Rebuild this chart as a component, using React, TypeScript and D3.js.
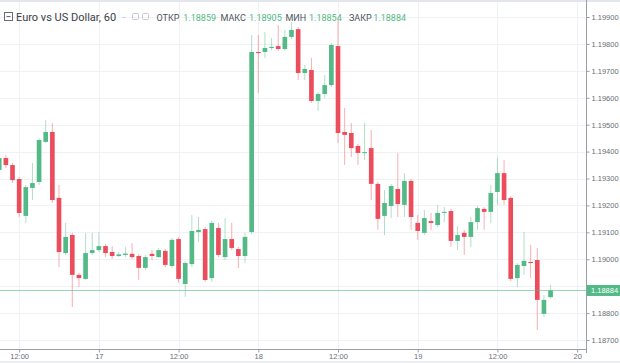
import { useEffect, useRef } from "react";
import * as d3 from "d3";

const WIDTH = 620;
const HEIGHT = 363;
const PLOT_RIGHT = 586;
const PLOT_BOTTOM = 349;

// EUR/USD hourly candles, first one at Oct 16 2017 09:00 UTC
const firstCandle = new Date(Date.UTC(2017, 9, 16, 9));

const opens = [
  1.19332, 1.19376, 1.1935, 1.19298, 1.19161, 1.19265, 1.19287, 1.19436, 1.19473, 1.19228,
  1.19023, 1.1909, 1.18942, 1.18927, 1.19023, 1.19034, 1.19049, 1.19027, 1.19012, 1.19016,
  1.1902, 1.19012, 1.18968, 1.1902, 1.19008, 1.19031, 1.18975, 1.19075, 1.18908, 1.18982,
  1.19101, 1.19112, 1.1893, 1.19116, 1.19008, 1.19075, 1.19038, 1.19012, 1.19101, 1.1977,
  1.1977, 1.19785, 1.19792, 1.19781, 1.19826, 1.19855, 1.19692, 1.19703, 1.19588, 1.19614,
  1.19647, 1.19792, 1.19473, 1.19469, 1.19421, 1.19395, 1.19413, 1.1928, 1.19161, 1.19198,
  1.19261, 1.19202, 1.19291, 1.19135, 1.19098, 1.19142, 1.19127, 1.19172, 1.19179, 1.19068,
  1.19098, 1.19083, 1.19138, 1.19187, 1.19176, 1.1925, 1.1932, 1.19228, 1.1893, 1.18975,
  1.1899, 1.18997, 1.18797, 1.18859,
];
const highs = [
  1.19387, 1.19387, 1.19358, 1.19306, 1.19276, 1.19358, 1.1945, 1.19517, 1.19506, 1.19276,
  1.19135, 1.19098, 1.18949, 1.19098, 1.19098, 1.19101, 1.19057, 1.19049, 1.19027, 1.19046,
  1.1906, 1.1902, 1.19016, 1.19034, 1.19042, 1.19038, 1.19079, 1.19083, 1.18994, 1.19164,
  1.19157, 1.1912, 1.19142, 1.19135, 1.19153, 1.19135, 1.19046, 1.19098, 1.19833, 1.19833,
  1.19844, 1.19822, 1.1987, 1.19852, 1.19881, 1.19863, 1.19722, 1.19748, 1.19621, 1.19685,
  1.19803, 1.19889, 1.19562, 1.19506, 1.19428, 1.19506, 1.1948, 1.19287, 1.19257, 1.1928,
  1.19395, 1.1932, 1.19298, 1.19164, 1.19183, 1.19172, 1.19202, 1.19194, 1.19187, 1.19124,
  1.19109, 1.19157, 1.19198, 1.19194, 1.19276, 1.19376, 1.19369, 1.19235, 1.18986, 1.19101,
  1.19053, 1.19042, 1.18867, 1.18905,
];
const lows = [
  1.19324, 1.19339, 1.19283, 1.19157, 1.19135, 1.1922, 1.19276, 1.19432, 1.19209, 1.18971,
  1.19016, 1.18823, 1.18897, 1.18923, 1.19016, 1.19027, 1.19008, 1.19001, 1.19008, 1.19008,
  1.19001, 1.18923, 1.1896, 1.18997, 1.19005, 1.18971, 1.18968, 1.18912, 1.1886, 1.18971,
  1.19064, 1.18916, 1.18916, 1.19008, 1.18997, 1.19034, 1.18968, 1.18986, 1.19094, 1.19618,
  1.19748, 1.19777, 1.19774, 1.19774, 1.19818, 1.19666, 1.19666, 1.19581, 1.19551, 1.19599,
  1.1964, 1.19432, 1.1935, 1.1938, 1.1935, 1.19369, 1.1922, 1.19109, 1.1909, 1.19153,
  1.19157, 1.19157, 1.19109, 1.19072, 1.1909, 1.19109, 1.1912, 1.19138, 1.19046, 1.19034,
  1.19016, 1.19046, 1.19109, 1.19109, 1.19135, 1.19202, 1.19202, 1.18919, 1.18897, 1.18942,
  1.1893, 1.18737, 1.18786, 1.18854,
];
const closes = [
  1.19376, 1.1935, 1.19294, 1.19172, 1.19268, 1.19283, 1.19443, 1.19473, 1.1922, 1.19027,
  1.19083, 1.18942, 1.1893, 1.19023, 1.19034, 1.19049, 1.19023, 1.19012, 1.19018, 1.19021,
  1.19008, 1.18968, 1.19008, 1.19012, 1.19034, 1.18979, 1.19072, 1.18927, 1.18986, 1.19105,
  1.19109, 1.18923, 1.19135, 1.19016, 1.19075, 1.19042, 1.19012, 1.19083, 1.1977, 1.19766,
  1.19785, 1.19789, 1.19781, 1.19826, 1.19852, 1.19692, 1.19707, 1.19588, 1.19614, 1.19647,
  1.19796, 1.19469, 1.19462, 1.19413, 1.19395, 1.19398, 1.1928, 1.1915, 1.19209, 1.19272,
  1.19205, 1.19291, 1.19157, 1.19105, 1.19153, 1.19135, 1.19172, 1.19176, 1.19068, 1.1909,
  1.19083, 1.19138, 1.1919, 1.19176, 1.19246, 1.1932, 1.1922, 1.18927, 1.18979, 1.18994,
  1.18986, 1.18849, 1.18849, 1.18884,
];

const priceTicks = [
  1.187, 1.188, 1.189, 1.19, 1.191, 1.192, 1.193, 1.194, 1.195, 1.196, 1.197, 1.198, 1.199,
];
const ohlcLabels = ["ОТКР", "МАКС", "МИН", "ЗАКР"];
const title = "Euro vs US Dollar, 60";

const UP = "#53b987";
const DOWN = "#eb4d5c";
const AXIS = "#9a9da5";
const AXIS_TEXT = "#6a6d75";

export default function App() {
  const ref = useRef<SVGSVGElement>(null);

  useEffect(() => {
    const svg = d3.select(ref.current);
    svg.selectAll("*").remove();

    const candles = opens.map((o, i) => ({
      t: d3.utcHour.offset(firstCandle, i),
      o,
      h: highs[i],
      l: lows[i],
      c: closes[i],
    }));
    const last = candles[candles.length - 1];

    const x = d3
      .scaleUtc()
      .domain([new Date(Date.UTC(2017, 9, 16, 9, 7)), new Date(Date.UTC(2017, 9, 20, 1, 20))])
      .range([0, PLOT_RIGHT]);
    const y = d3.scaleLinear().domain([1.187, 1.199]).range([340, 17]);
    const step = x(d3.utcHour.offset(firstCandle, 1)) - x(firstCandle);
    const bodyW = step * 0.7;
    const fmt = d3.format(".5f");

    svg.append("rect").attr("width", WIDTH).attr("height", HEIGHT).attr("fill", "#fff");
    svg.append("rect").attr("width", WIDTH).attr("height", 2).attr("fill", "#e3e6ec");
    svg.append("rect").attr("y", 361).attr("width", WIDTH).attr("height", 2).attr("fill", "#eceef2");

    const timeTicks = x.ticks(d3.utcHour.every(12) as d3.TimeInterval);

    // grid
    svg
      .append("g")
      .selectAll("line")
      .data(priceTicks)
      .join("line")
      .attr("x1", 0)
      .attr("x2", PLOT_RIGHT)
      .attr("y1", (d) => Math.round(y(d)) + 0.5)
      .attr("y2", (d) => Math.round(y(d)) + 0.5)
      .attr("stroke", "#eff1f5");
    svg
      .append("g")
      .selectAll("line")
      .data(timeTicks)
      .join("line")
      .attr("x1", (d) => Math.round(x(d)) + 0.5)
      .attr("x2", (d) => Math.round(x(d)) + 0.5)
      .attr("y1", 2)
      .attr("y2", PLOT_BOTTOM)
      .attr("stroke", "#eff1f5");

    // candles
    const g = svg.append("g");
    g.selectAll("line.wick")
      .data(candles)
      .join("line")
      .attr("class", "wick")
      .attr("x1", (d) => x(d.t))
      .attr("x2", (d) => x(d.t))
      .attr("y1", (d) => y(d.h))
      .attr("y2", (d) => y(d.l))
      .attr("stroke", (d) => (d.c >= d.o ? UP : DOWN))
      .attr("stroke-opacity", 0.45)
      .attr("stroke-width", 1);
    g.selectAll("rect.body")
      .data(candles)
      .join("rect")
      .attr("class", "body")
      .attr("x", (d) => x(d.t) - bodyW / 2)
      .attr("width", bodyW)
      .attr("y", (d) => y(Math.max(d.o, d.c)))
      .attr("height", (d) => Math.max(1, Math.abs(y(d.o) - y(d.c))))
      .attr("fill", (d) => (d.c >= d.o ? UP : DOWN));

    // last price line
    const lastY = y(last.c);
    svg
      .append("line")
      .attr("x1", 0)
      .attr("x2", PLOT_RIGHT)
      .attr("y1", lastY)
      .attr("y2", lastY)
      .attr("stroke", UP)
      .attr("stroke-opacity", 0.6);

    // right axis, labels hidden under the price badge
    const visibleTicks = priceTicks.filter((p) => Math.abs(y(p) - lastY) > 9);
    const ya = svg
      .append("g")
      .attr("transform", `translate(${PLOT_RIGHT + 0.5},0)`)
      .call(d3.axisRight(y).tickValues(visibleTicks).tickSize(3).tickPadding(2).tickFormat(fmt));
    ya.select(".domain").remove();
    ya.selectAll("line").attr("stroke", AXIS);
    ya.selectAll("text")
      .attr("fill", AXIS_TEXT)
      .style("font-family", "'Liberation Sans', Arial, sans-serif")
      .style("font-size", "7.5px");
    svg
      .append("line")
      .attr("x1", PLOT_RIGHT + 0.5)
      .attr("x2", PLOT_RIGHT + 0.5)
      .attr("y1", 0)
      .attr("y2", PLOT_BOTTOM + 4)
      .attr("stroke", AXIS);

    // bottom axis
    const xa = svg
      .append("g")
      .attr("transform", `translate(0,${PLOT_BOTTOM + 0.5})`)
      .call(
        d3
          .axisBottom(x)
          .tickValues(timeTicks)
          .tickSize(3)
          .tickPadding(1)
          .tickFormat((d) => {
            const dt = d as Date;
            return dt.getUTCHours() === 0 ? String(dt.getUTCDate()) : "12:00";
          })
      );
    xa.select(".domain").remove();
    xa.selectAll("line").attr("stroke", AXIS);
    xa.selectAll("text")
      .attr("fill", AXIS_TEXT)
      .style("font-family", "'Liberation Sans', Arial, sans-serif")
      .style("font-size", "7.5px");
    svg
      .append("line")
      .attr("x1", 0)
      .attr("x2", PLOT_RIGHT + 0.5)
      .attr("y1", PLOT_BOTTOM + 0.5)
      .attr("y2", PLOT_BOTTOM + 0.5)
      .attr("stroke", AXIS);

    // last price badge
    const badge = svg.append("g").attr("transform", `translate(${PLOT_RIGHT + 1},${lastY})`);
    badge.append("rect").attr("x", 0).attr("y", -5.5).attr("width", WIDTH - PLOT_RIGHT).attr("height", 11).attr("fill", UP);
    badge
      .append("text")
      .attr("x", 4)
      .attr("dy", "0.35em")
      .attr("fill", "#fff")
      .style("font-family", "'Liberation Sans', Arial, sans-serif")
      .style("font-size", "7.5px")
      .text(fmt(last.c));

    // header
    const head = svg.append("g").style("font-family", "Roboto, 'Open Sans', sans-serif");
    head.append("rect").attr("x", 4.5).attr("y", 12.5).attr("width", 8).attr("height", 8).attr("fill", "none").attr("stroke", AXIS_TEXT);
    head.append("line").attr("x1", 6.5).attr("x2", 10.5).attr("y1", 16.5).attr("y2", 16.5).attr("stroke", AXIS_TEXT);
    head
      .append("text")
      .attr("x", 16)
      .attr("y", 21)
      .attr("fill", "#3b3e45")
      .style("font-size", "11px")
      .text(title);
    head.append("text").attr("x", 122.5).attr("y", 20).attr("fill", "#b5b8bf").style("font-size", "9px").text("-");
    [132.5, 142.5].forEach((ix) => {
      head.append("rect").attr("x", ix).attr("y", 13.5).attr("width", 6).attr("height", 6).attr("rx", 1).attr("fill", "none").attr("stroke", "#c5c8ce");
    });
    const vals = [last.o, last.h, last.l, last.c];
    const labelX = [156.5, 220.5, 285.5, 349];
    const valX = [183.3, 249, 309, 373.3];
    ohlcLabels.forEach((lab, i) => {
      head.append("text").attr("x", labelX[i]).attr("y", 21).attr("fill", "#4f535b").style("font-size", "9px").text(lab);
      head
        .append("text")
        .attr("x", valX[i])
        .attr("y", 21)
        .attr("fill", UP)
        .style("font-size", "9px")
        .text(fmt(vals[i]));
    });
  }, []);

  return (
    <svg
      ref={ref}
      width={WIDTH}
      height={HEIGHT}
      style={{ position: "absolute", left: 0, top: 0, display: "block" }}
    />
  );
}
